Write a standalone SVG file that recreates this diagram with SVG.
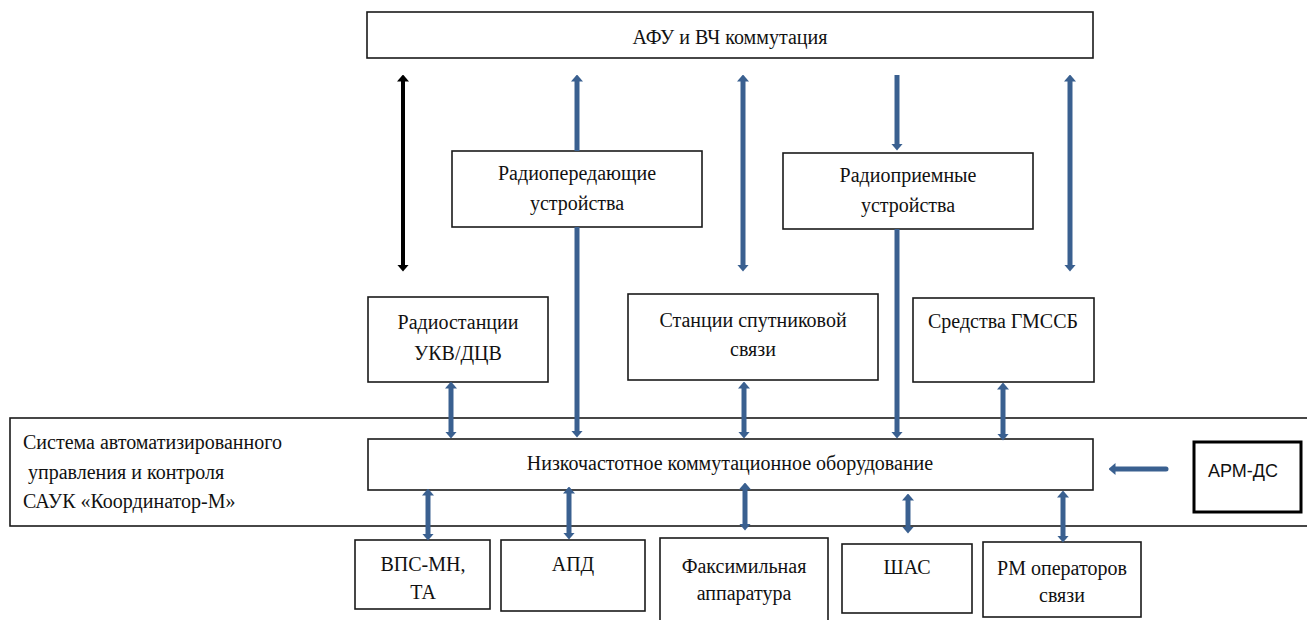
<svg xmlns="http://www.w3.org/2000/svg" width="1307" height="620" viewBox="0 0 1307 620">
  <style>
    .box { fill: #ffffff; stroke: #1a1a1a; stroke-width: 1.6; }
    .box-thick { fill: #ffffff; stroke: #000000; stroke-width: 3; }
    .lbl { font-family: "Liberation Serif", "Times New Roman", serif; font-size: 20px; fill: #111111; text-anchor: middle; }
    .lbl-left { font-family: "Liberation Serif", "Times New Roman", serif; font-size: 20px; fill: #111111; }
    .lbl-sans { font-family: "Liberation Sans", Arial, sans-serif; font-size: 18px; fill: #111111; }
    .link { stroke: #3a6090; stroke-width: 5; fill: none; }
    .link-black { stroke: #000000; stroke-width: 4; fill: none; }
  </style>
  <defs>
    <marker id="headBlue" markerUnits="userSpaceOnUse" viewBox="0 0 7 12" markerWidth="7" markerHeight="12" refX="0.5" refY="6" orient="auto-start-reverse">
      <path d="M0,0 L7,6 L0,12 z" fill="#3a6090"/>
    </marker>
    <marker id="headBlack" markerUnits="userSpaceOnUse" viewBox="0 0 7 12" markerWidth="7" markerHeight="12" refX="0.5" refY="6" orient="auto-start-reverse">
      <path d="M0,0 L7,6 L0,12 z" fill="#000000"/>
    </marker>
  </defs>

  <rect width="1307" height="620" fill="#ffffff"/>

  <!-- control system frame (behind the LF switching node) -->
  <g id="sauk">
    <rect class="box" x="10" y="418" width="1310" height="108"/>
    <text class="lbl-left" x="23" y="449">Система автоматизированного</text>
    <text class="lbl-left" x="23" y="479" xml:space="preserve"> управления и контроля</text>
    <text class="lbl-left" x="23" y="508">САУК «Координатор-М»</text>
  </g>

  <g id="afu">
    <rect class="box" x="367" y="12" width="726" height="46"/>
    <text class="lbl" x="730" y="44">АФУ и ВЧ коммутация</text>
  </g>

  <g id="transmitters">
    <rect class="box" x="452" y="151" width="250" height="76"/>
    <text class="lbl" x="577" y="180">Радиопередающие</text>
    <text class="lbl" x="577" y="210">устройства</text>
  </g>

  <g id="receivers">
    <rect class="box" x="783" y="153" width="250" height="76"/>
    <text class="lbl" x="908" y="182">Радиоприемные</text>
    <text class="lbl" x="908" y="212">устройства</text>
  </g>

  <g id="vhf">
    <rect class="box" x="368" y="297" width="180" height="85"/>
    <text class="lbl" x="458" y="329">Радиостанции</text>
    <text class="lbl" x="458" y="360">УКВ/ДЦВ</text>
  </g>

  <g id="satellite">
    <rect class="box" x="628" y="294" width="250" height="86"/>
    <text class="lbl" x="753" y="327">Станции спутниковой</text>
    <text class="lbl" x="753" y="356">связи</text>
  </g>

  <g id="gmdss">
    <rect class="box" x="913" y="298" width="181" height="84"/>
    <text class="lbl" x="1003" y="328">Средства ГМССБ</text>
  </g>

  <g id="lf-switch">
    <rect class="box" x="368" y="439" width="725" height="51"/>
    <text class="lbl" x="730" y="470">Низкочастотное коммутационное оборудование</text>
  </g>

  <g id="arm-ds">
    <rect class="box-thick" x="1194" y="442" width="107" height="70"/>
    <text class="lbl-sans" x="1208" y="477">АРМ-ДС</text>
  </g>

  <g id="vps">
    <rect class="box" x="355" y="540" width="135" height="69"/>
    <text class="lbl" x="423" y="571">ВПС-МН,</text>
    <text class="lbl" x="423" y="599">ТА</text>
  </g>

  <g id="apd">
    <rect class="box" x="501" y="540" width="144" height="71"/>
    <text class="lbl" x="573" y="571">АПД</text>
  </g>

  <g id="fax">
    <rect class="box" x="660" y="538" width="168" height="90"/>
    <text class="lbl" x="744" y="573">Факсимильная</text>
    <text class="lbl" x="744" y="600">аппаратура</text>
  </g>

  <g id="shas">
    <rect class="box" x="842" y="544" width="130" height="69"/>
    <text class="lbl" x="907" y="574">ШАС</text>
  </g>

  <g id="operators">
    <rect class="box" x="983" y="542" width="158" height="75"/>
    <text class="lbl" x="1062" y="575">РМ операторов</text>
    <text class="lbl" x="1062" y="602">связи</text>
  </g>

  <!-- connectors: endpoints stop 7px short of the tip, the head covers the rest -->
  <g id="connectors">
    <line class="link-black" x1="403" y1="81" x2="403" y2="265" marker-start="url(#headBlack)" marker-end="url(#headBlack)"/>
    <line class="link" x1="577" y1="151" x2="577" y2="81" marker-end="url(#headBlue)"/>
    <line class="link" x1="743" y1="81" x2="743" y2="265" marker-start="url(#headBlue)" marker-end="url(#headBlue)"/>
    <line class="link" x1="897" y1="75" x2="897" y2="144" marker-end="url(#headBlue)"/>
    <line class="link" x1="1070" y1="81" x2="1070" y2="265" marker-start="url(#headBlue)" marker-end="url(#headBlue)"/>

    <line class="link" x1="577" y1="227" x2="577" y2="431" marker-end="url(#headBlue)"/>
    <line class="link" x1="897" y1="229" x2="897" y2="432" marker-end="url(#headBlue)"/>

    <line class="link" x1="451" y1="388" x2="451" y2="432" marker-start="url(#headBlue)" marker-end="url(#headBlue)"/>
    <line class="link" x1="744" y1="388" x2="744" y2="432" marker-start="url(#headBlue)" marker-end="url(#headBlue)"/>
    <line class="link" x1="1003" y1="389" x2="1003" y2="434" marker-start="url(#headBlue)" marker-end="url(#headBlue)"/>

    <line class="link" x1="428" y1="495" x2="428" y2="534" marker-start="url(#headBlue)" marker-end="url(#headBlue)"/>
    <line class="link" x1="569" y1="493" x2="569" y2="533" marker-start="url(#headBlue)" marker-end="url(#headBlue)"/>
    <line class="link" x1="745" y1="489" x2="745" y2="524" marker-start="url(#headBlue)" marker-end="url(#headBlue)"/>
    <line class="link" x1="908" y1="500" x2="908" y2="527" marker-start="url(#headBlue)" marker-end="url(#headBlue)"/>
    <line class="link" x1="1063" y1="497" x2="1063" y2="536" marker-start="url(#headBlue)" marker-end="url(#headBlue)"/>

    <line class="link" x1="1166" y1="469" x2="1115" y2="469" stroke-linecap="round" marker-end="url(#headBlue)"/>
  </g>
</svg>
